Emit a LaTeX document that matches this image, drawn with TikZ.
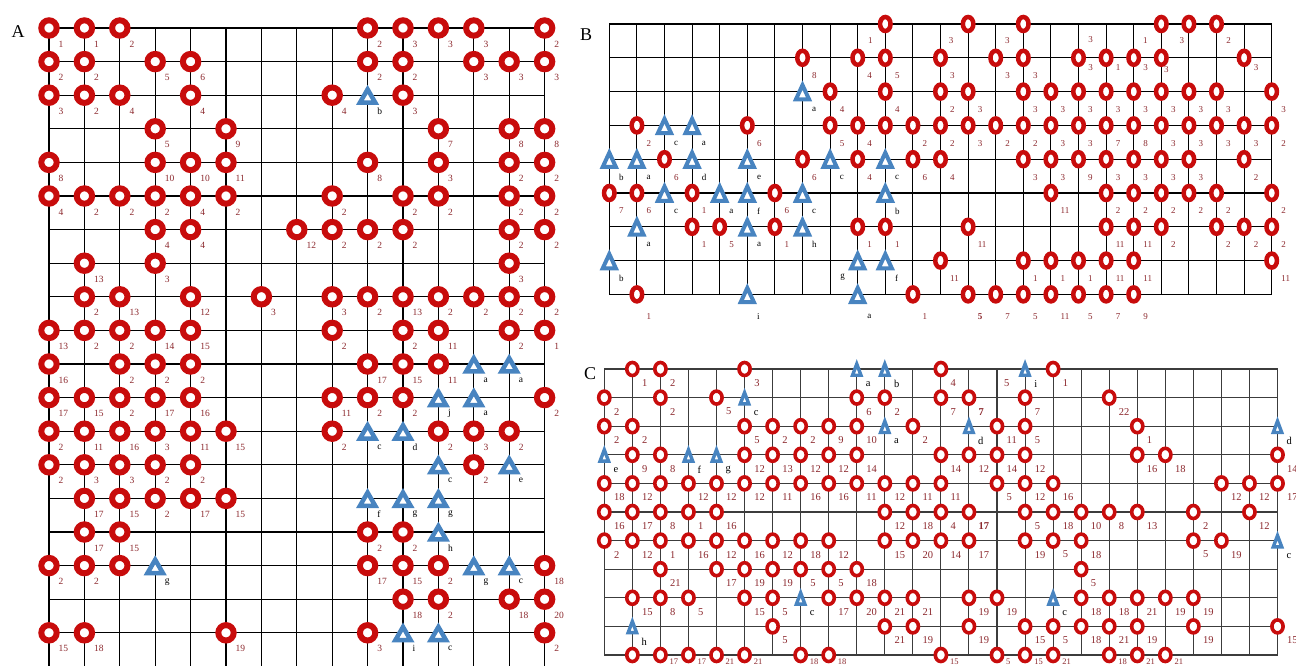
\documentclass[tikz,border=0pt]{standalone}
\usepackage{fontspec}
\setmainfont{Liberation Serif}
\usetikzlibrary{shapes.geometric}
\definecolor{ringred}{RGB}{200,12,12}
\definecolor{triblue}{RGB}{72,132,192}
\definecolor{numred}{RGB}{140,40,45}
\definecolor{gridgray}{RGB}{60,60,60}
\tikzset{
  gridA/.style={black, line width=1.3pt},
  gridB/.style={black, line width=1.15pt},
  gridC/.style={gridgray, line width=1.05pt},
  ringA/.style={circle, draw=ringred, fill=white, line width=6pt, minimum size=15.4pt, inner sep=0pt},
  ringB/.style={ellipse, draw=ringred, fill=white, line width=4.5pt, minimum width=10.5pt, minimum height=14pt, inner sep=0pt},
  ringC/.style={ellipse, draw=ringred, fill=white, line width=3.6pt, minimum width=11.2pt, minimum height=13pt, inner sep=0pt},
  triA/.style={regular polygon, regular polygon sides=3, draw=triblue, fill=white, line width=4.5pt, minimum size=17.7pt, inner sep=0pt},
  triB/.style={regular polygon, regular polygon sides=3, draw=triblue, fill=white, line width=4pt, minimum size=19pt, inner sep=0pt, xscale=0.8, transform shape},
  triC/.style={regular polygon, regular polygon sides=3, draw=triblue, fill=white, line width=3.4pt, minimum size=15pt, inner sep=0pt, xscale=0.65, transform shape},
  numA/.style={text=numred, font=\fontsize{9.5}{10}\selectfont, inner sep=0pt, anchor=west},
  letA/.style={numA, text=black},
  numB/.style={text=numred, font=\fontsize{9}{10}\selectfont, inner sep=0pt, anchor=west},
  letB/.style={numB, text=black},
  numC/.style={text=numred, font=\fontsize{10.5}{11}\selectfont, inner sep=0pt, anchor=west},
  letC/.style={numC, text=black},
  panel/.style={font=\fontsize{18}{18}\selectfont, inner sep=0pt}
}
\begin{document}
\begin{tikzpicture}[x=1pt,y=1pt]
\fill[white] (0,-666) rectangle (1296,0);
\useasboundingbox (0,-666) rectangle (1296,0);

% ---------------- grids ----------------
\foreach \i in {0,...,14} \draw[gridA] ({49+35.4*\i},-28) -- ({49+35.4*\i},-666);
\foreach \j in {0,...,18} \draw[gridA] (49,{-28-33.6*\j}) -- (544.6,{-28-33.6*\j});
\foreach \i in {0,...,24} \draw[gridB] ({609.3+27.6*\i},-24) -- ({609.3+27.6*\i},-294.4);
\foreach \j in {0,...,8} \draw[gridB] (609.3,{-24-33.8*\j}) -- (1271.7,{-24-33.8*\j});
\foreach \i in {0,...,24} \draw[gridC] ({604.3+28.05*\i},-369) -- ({604.3+28.05*\i},-655);
\foreach \j in {0,...,10} \draw[gridC] (604.3,{-369-28.6*\j}) -- (1277.5,{-369-28.6*\j});

% ---------------- panel letters ----------------
\node[panel] (LA) at (18,-32) {A};
\node[panel] (LB) at (586,-35) {B};
\node[panel] (LC) at (590,-374) {C};

% ---------------- panel A ----------------
\foreach \ci/\ri/\tx in {0/0/1,1/0/1,2/0/2,9/0/2,10/0/3,11/0/3,12/0/3,14/0/2,
 0/1/2,1/1/2,3/1/5,4/1/6,9/1/2,10/1/2,12/1/3,13/1/3,14/1/3,
 0/2/3,1/2/2,2/2/4,4/2/4,8/2/4,10/2/3,
 3/3/5,5/3/9,11/3/7,13/3/8,14/3/8,
 0/4/8,3/4/10,4/4/10,5/4/11,9/4/8,11/4/3,13/4/2,14/4/2,
 0/5/4,1/5/2,2/5/2,3/5/2,4/5/4,5/5/2,8/5/2,10/5/2,11/5/2,13/5/2,14/5/2,
 3/6/4,4/6/4,7/6/12,8/6/2,9/6/2,10/6/2,13/6/2,14/6/2,
 1/7/13,3/7/3,13/7/3,
 1/8/2,2/8/13,4/8/12,6/8/3,8/8/3,9/8/2,10/8/13,11/8/2,12/8/2,13/8/2,14/8/2,
 0/9/13,1/9/2,2/9/2,3/9/14,4/9/15,8/9/2,10/9/2,11/9/11,13/9/2,14/9/1,
 0/10/16,2/10/2,3/10/2,4/10/2,9/10/17,10/10/15,11/10/11,
 0/11/17,1/11/15,2/11/2,3/11/17,4/11/16,8/11/11,9/11/2,10/11/2,14/11/2,
 0/12/2,1/12/11,2/12/16,3/12/3,4/12/11,5/12/15,8/12/2,11/12/2,12/12/3,13/12/2,
 0/13/2,1/13/3,2/13/3,3/13/2,4/13/2,12/13/2,
 1/14/17,2/14/15,3/14/2,4/14/17,5/14/15,
 1/15/17,2/15/15,9/15/2,10/15/2,
 0/16/2,1/16/2,9/16/17,10/16/15,11/16/2,14/16/18,
 10/17/18,11/17/2,13/17/18,14/17/20,
 0/18/15,1/18/18,5/18/19,9/18/3,14/18/2}{
  \node[ringA] (A\ci-\ri) at ({49+35.4*\ci},{-28-33.6*\ri}) {};
  \node[numA] (A\ci-\ri-t) at ([shift={(9.5,-16)}]A\ci-\ri.center) {\tx};
}
\node[ringA] (A2-16) at ({49+35.4*2},{-28-33.6*16}) {};
\foreach \ci/\ri/\tx in {9/2/b,12/10/a,13/10/a,11/11/j,12/11/a,9/12/c,10/12/d,11/13/c,13/13/e,
 9/14/f,10/14/g,11/14/g,11/15/h,3/16/g,12/16/g,13/16/c,10/18/i,11/18/c}{
  \node[triA] (A\ci-\ri) at ({49+35.4*\ci},{-31-33.6*\ri}) {};
  \node[letA] (A\ci-\ri-t) at ([shift={(9.5,-13)}]A\ci-\ri.center) {\tx};
}

% ---------------- panel B ----------------
\foreach \ci/\ri/\tx in {7/1/8,9/1/4,10/1/5,12/1/3,14/1/3,15/1/3,
 8/2/4,10/2/4,12/2/2,13/2/3,15/2/3,16/2/3,17/2/3,18/2/3,19/2/3,20/2/3,21/2/3,22/2/3,24/2/3,
 1/3/2,5/3/6,8/3/5,9/3/4,11/3/2,12/3/2,13/3/3,14/3/2,15/3/2,16/3/3,17/3/3,18/3/7,19/3/8,20/3/3,21/3/3,22/3/3,23/3/3,24/3/2,
 2/4/6,7/4/6,9/4/4,11/4/6,12/4/4,15/4/3,16/4/3,17/4/9,18/4/3,19/4/3,20/4/3,21/4/3,23/4/2,
 0/5/7,1/5/6,3/5/1,6/5/6,16/5/11,18/5/2,19/5/2,20/5/2,21/5/2,22/5/2,24/5/2,
 3/6/1,4/6/5,6/6/1,9/6/1,10/6/1,13/6/11,18/6/11,19/6/11,20/6/2,22/6/2,23/6/2,24/6/2,
 12/7/11,15/7/1,16/7/1,17/7/1,18/7/11,19/7/11,24/7/11}{
  \node[ringB] (B\ci-\ri) at ({609.3+27.6*\ci},{-24-33.8*\ri}) {};
  \node[numB] (B\ci-\ri-t) at ([shift={(9.5,-18)}]B\ci-\ri.center) {\tx};
}
\foreach \ci/\ri/\tx in {1/8/1,11/8/1,13/8/\textbf{5},14/8/7,15/8/5,16/8/11,17/8/5,18/8/7,19/8/9}{
  \node[ringB] (B\ci-\ri) at ({609.3+27.6*\ci},{-24-33.8*\ri}) {};
  \node[numB] (B\ci-\ri-t) at ([shift={(9.5,-22)}]B\ci-\ri.center) {\tx};
}
\foreach \ci/\ri/\tx/\dx/\dy in {10/0/1/-15/-17,13/0/3/-17/-17,15/0/3/-16/-17,20/0/1/-16/-17,21/0/3/-7/-17,22/0/2/12/-17,
 17/1/3/12/-10,18/1/1/12/-10,19/1/3/12/-10,20/1/3/5/-12,23/1/3/12/-10}{
  \node[ringB] (B\ci-\ri) at ({609.3+27.6*\ci},{-24-33.8*\ri}) {};
  \node[numB, anchor=center] (B\ci-\ri-t) at ([shift={(\dx,\dy)}]B\ci-\ri.center) {\tx};
}
\node[ringB] (B10-3) at ({609.3+27.6*10},{-24-33.8*3}) {};
\node[numB, anchor=center] (Bx1) at (1090.7,-39.3) {3};
\foreach \ci/\ri/\tx in {7/2/a,2/3/c,3/3/a,0/4/b,1/4/a,3/4/d,5/4/e,8/4/c,10/4/c,2/5/c,4/5/a,5/5/f,7/5/c,10/5/b,
 1/6/a,5/6/a,7/6/h,0/7/b,10/7/f}{
  \node[triB] (B\ci-\ri) at ({609.3+27.6*\ci},{-27-33.8*\ri}) {};
  \node[letB] (B\ci-\ri-t) at ([shift={(9.5,-15)}]B\ci-\ri.center) {\tx};
}
\foreach \ci/\ri/\tx in {5/8/i,9/8/a}{
  \node[triB] (B\ci-\ri) at ({609.3+27.6*\ci},{-27-33.8*\ri}) {};
  \node[letB] (B\ci-\ri-t) at ([shift={(9.5,-19)}]B\ci-\ri.center) {\tx};
}
\node[triB] (B9-7) at ({609.3+27.6*9},{-27-33.8*7}) {};
\node[letB, anchor=center] (B9-7-t) at ([shift={(-15,-14)}]B9-7.center) {g};

% ---------------- panel C ----------------
\foreach \ci/\ri/\tx in {1/0/1,2/0/2,5/0/3,12/0/4,16/0/1,
 0/1/2,2/1/2,4/1/5,9/1/6,10/1/2,12/1/7,13/1/\textbf{7},15/1/7,18/1/22,
 0/2/2,1/2/2,5/2/5,6/2/2,7/2/2,8/2/9,9/2/10,11/2/2,14/2/11,15/2/5,19/2/1,
 1/3/9,2/3/8,5/3/12,6/3/13,7/3/12,8/3/12,9/3/14,12/3/14,13/3/12,14/3/14,15/3/12,19/3/16,20/3/18,24/3/14,
 0/4/18,1/4/12,3/4/12,4/4/12,5/4/12,6/4/11,7/4/16,8/4/16,9/4/11,10/4/12,11/4/11,12/4/11,14/4/5,15/4/12,16/4/16,22/4/12,23/4/12,24/4/17,
 0/5/16,1/5/17,2/5/8,3/5/1,4/5/16,10/5/12,11/5/18,12/5/4,13/5/\textbf{17},15/5/5,16/5/18,17/5/10,18/5/8,19/5/13,21/5/2,23/5/12,
 0/6/2,1/6/12,2/6/1,3/6/16,4/6/12,5/6/16,6/6/12,7/6/18,8/6/12,10/6/15,11/6/20,12/6/14,13/6/17,15/6/19,16/6/5,17/6/18,21/6/5,22/6/19,
 2/7/21,4/7/17,5/7/19,6/7/19,7/7/5,8/7/5,9/7/18,17/7/5,
 1/8/15,2/8/8,3/8/5,5/8/15,6/8/5,8/8/17,9/8/20,10/8/21,11/8/21,13/8/19,14/8/19,17/8/18,18/8/18,19/8/21,20/8/19,21/8/19,
 6/9/5,10/9/21,11/9/19,13/9/19,15/9/15,16/9/5,17/9/18,18/9/21,19/9/19,21/9/19,24/9/15}{
  \node[ringC] (C\ci-\ri) at ({604.3+28.05*\ci},{-369-28.6*\ri}) {};
  \node[numC] (C\ci-\ri-t) at ([shift={(9.5,-14)}]C\ci-\ri.center) {\tx};
}
\foreach \ci/\ri/\tx in {2/10/17,3/10/17,4/10/21,5/10/21,7/10/18,8/10/18,12/10/15,14/10/5,15/10/15,16/10/21,18/10/18,19/10/21,20/10/21}{
  \node[ringC] (C\ci-\ri) at ({604.3+28.05*\ci},{-369-28.6*\ri}) {};
  \node[numC, font=\fontsize{8.5}{9}\selectfont] (C\ci-\ri-t) at ([shift={(9,-6.5)}]C\ci-\ri.center) {\tx};
}
\foreach \ci/\ri in {2/4,1/10}{
  \node[ringC] (C\ci-\ri) at ({604.3+28.05*\ci},{-369-28.6*\ri}) {};
}
\node[numC, anchor=center] (Cx1) at (1006.7,-383.3) {5};
\foreach \ci/\ri/\tx in {9/0/a,10/0/b,15/0/i,5/1/c,10/2/a,13/2/d,24/2/d,0/3/e,3/3/f,4/3/g,24/6/c,7/8/c,16/8/c,1/9/h}{
  \node[triC] (C\ci-\ri) at ({604.3+28.05*\ci},{-371.5-28.6*\ri}) {};
  \node[letC] (C\ci-\ri-t) at ([shift={(9,-12.5)}]C\ci-\ri.center) {\tx};
}
\end{tikzpicture}
\end{document}
